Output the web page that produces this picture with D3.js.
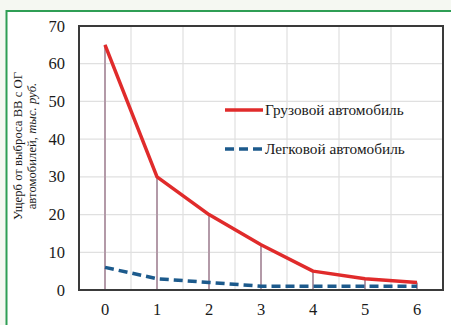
<!DOCTYPE html>
<html><head><meta charset="utf-8">
<script src="https://cdn.jsdelivr.net/npm/d3@7"></script>
<style>html,body{margin:0;padding:0;background:#f5f8f2;}svg{display:block;}</style>
</head><body>
<script>
const xValues = [0, 1, 2, 3, 4, 5, 6];
const truckValues = [65, 30, 20, 12, 5, 3, 2];
const carValues = [6, 3, 2, 1, 1, 1, 1];
const yTicks = [0, 10, 20, 30, 40, 50, 60, 70];
const seriesNames = ["Грузовой автомобиль", "Легковой автомобиль"];

const W = 451, H = 325;
const svg = d3.select("body").append("svg").attr("width", W).attr("height", H);
svg.append("rect").attr("x", 0).attr("y", 0).attr("width", W).attr("height", H).attr("fill", "#f5f8f2");
svg.append("rect").attr("x", 6.5).attr("y", 11).attr("width", 460).attr("height", 330)
  .attr("fill", "#ffffff").attr("stroke", "#2f9e55").attr("stroke-width", 2);

const L = 79, T = 26, R = 443, B = 290;
const x = d3.scaleLinear().domain([-0.5, 6.5]).range([L, R]);
const y = d3.scaleLinear().domain([0, 70]).range([B, T]);

const g = svg.append("g");
// grid
g.selectAll(".hg").data(yTicks).enter().append("line")
  .attr("x1", L).attr("x2", R).attr("y1", d => y(d)).attr("y2", d => y(d))
  .attr("stroke", "#e0e0e0").attr("stroke-width", 1.2);
const vgrid = d3.range(-0.5, 7, 1);
g.selectAll(".vg").data(vgrid).enter().append("line")
  .attr("x1", d => x(d)).attr("x2", d => x(d)).attr("y1", T).attr("y2", B)
  .attr("stroke", "#e0e0e0").attr("stroke-width", 1.2);

// drop lines
g.selectAll(".drop").data(xValues).enter().append("line")
  .attr("x1", d => x(d)).attr("x2", d => x(d))
  .attr("y1", B).attr("y2", (d, i) => y(truckValues[i]))
  .attr("stroke", "#b39aa8").attr("stroke-width", 2);

const line = d3.line().x(d => x(d[0])).y(d => y(d[1]));
g.append("path").datum(xValues.map((d, i) => [d, truckValues[i]]))
  .attr("d", line).attr("fill", "none").attr("stroke", "#e02b2b").attr("stroke-width", 3.5)
  .attr("stroke-linejoin", "round");
g.append("path").datum(xValues.map((d, i) => [d, carValues[i]]))
  .attr("d", line).attr("fill", "none").attr("stroke", "#1c5a8c").attr("stroke-width", 3.5)
  .attr("stroke-dasharray", "9,5");

// frame
svg.append("rect").attr("x", L).attr("y", T).attr("width", R - L).attr("height", B - T)
  .attr("fill", "none").attr("stroke", "#3a3a3a").attr("stroke-width", 2);

// axes labels
const font = "'Liberation Serif', 'Times New Roman', serif";
svg.selectAll(".yt").data(yTicks).enter().append("text")
  .attr("x", 65).attr("y", d => y(d) + 5.5).attr("text-anchor", "end")
  .attr("font-family", font).attr("font-size", 16.5).attr("fill", "#1a1a1a").text(d => d);
svg.selectAll(".xt").data(xValues).enter().append("text")
  .attr("x", d => x(d)).attr("y", 315).attr("text-anchor", "middle")
  .attr("font-family", font).attr("font-size", 16.5).attr("fill", "#1a1a1a").text(d => d);

// y title
const yt = svg.append("text").attr("transform", "translate(22,146) rotate(-90)")
  .attr("text-anchor", "middle").attr("font-family", font).attr("font-size", 12.7).attr("fill", "#1a1a1a");
yt.append("tspan").attr("x", 0).attr("dy", 0).text("Ущерб от выброса ВВ с ОГ");
const t2 = yt.append("tspan").attr("x", 0).attr("dy", 14);
t2.append("tspan").text("автомобилей, ");
t2.append("tspan").attr("font-style", "italic").text("тыс. руб.");

// legend
const leg = [{y: 110, color: "#e02b2b", dash: null}, {y: 149, color: "#1c5a8c", dash: "9,5"}];
leg.forEach((l, i) => {
  svg.append("line").attr("x1", 225).attr("x2", 263).attr("y1", l.y).attr("y2", l.y)
    .attr("stroke", l.color).attr("stroke-width", 3.5).attr("stroke-dasharray", l.dash);
  svg.append("text").attr("x", 265).attr("y", l.y + 5).attr("font-family", font)
    .attr("font-size", 15.3).attr("fill", "#1a1a1a").text(seriesNames[i]);
});
</script>
</body></html>
